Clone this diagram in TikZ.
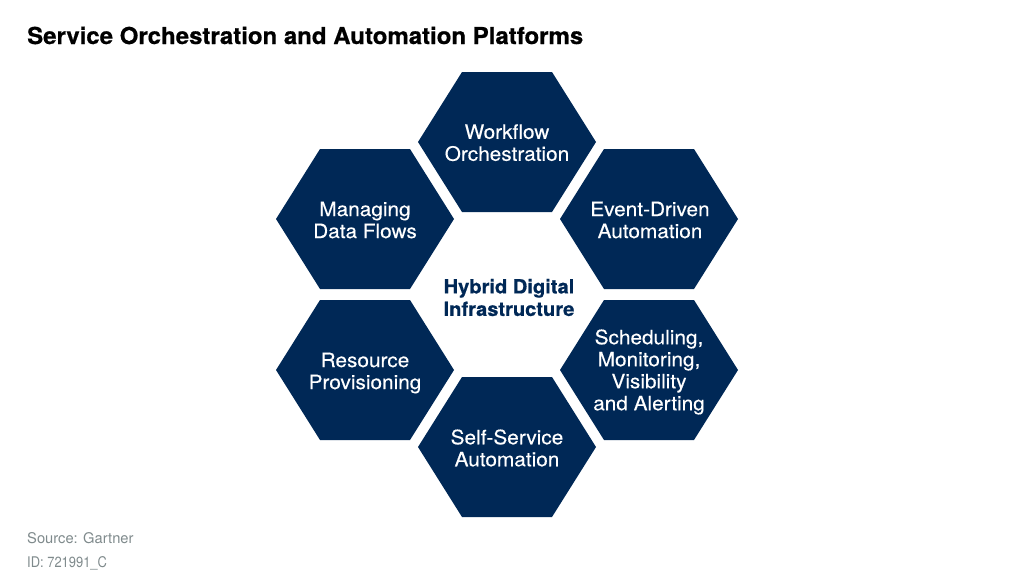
\documentclass[tikz,border=0pt]{standalone}
\usepackage{fontspec}
\setmainfont{TeX Gyre Heros}[FakeStretch=1.05]
\newfontfamily\hexfont{TeX Gyre Heros}[FakeStretch=1.05, FakeBold=0.25]
\newfontfamily\titlefont{TeX Gyre Heros Bold}[FakeStretch=1.03, FakeBold=0.6]
\newfontfamily\footfont{TeX Gyre Heros}
\newfontfamily\idfont{TeX Gyre Heros}[FakeStretch=0.88]
\definecolor{navy}{HTML}{002856}
\definecolor{footgray}{HTML}{7F8A8C}
\tikzset{
  hexfill/.style={fill=navy},
  hexlabel/.style={text=white, align=center, inner sep=0pt, font=\fontsize{19.8}{22}\hexfont\selectfont},
  centerlabel/.style={text=navy, align=center, inner sep=0pt, font=\fontsize{19.5}{22.5}\titlefont\selectfont},
  titlelabel/.style={anchor=base west, inner sep=0pt, font=\fontsize{23.3}{26}\titlefont\selectfont},
  footlabel/.style={anchor=base west, inner sep=0pt, text=footgray, font=\fontsize{14.7}{16}\footfont\selectfont}
}
\begin{document}
\begin{tikzpicture}[x=1pt, y=-1pt]
\useasboundingbox (0,0) rectangle (1024,581);
\foreach \name/\x/\y/\dx/\dy/\txt in {
  workflow/507/142/0/0.7/{Workflow\\Orchestration},
  event/649/219/1/1/{Event-Driven\\Automation},
  scheduling/649/370/0/2/{Scheduling,\\Monitoring,\\Visibility\\and Alerting},
  selfservice/507/447/0/1/{Self-Service\\Automation},
  resource/365/370/0/3/{Resource\\Provisioning},
  managing/365/219/0/1/{Managing\\Data Flows}}
{
  \fill[hexfill] (\x-89,\y) -- (\x-45,\y-70) -- (\x+45,\y-70) -- (\x+89,\y) -- (\x+45,\y+70) -- (\x-45,\y+70) -- cycle;
  \node[hexlabel] (\name) at (\x+\dx,\y+\dy) {\txt};
}
\node[centerlabel] (hybrid) at (509,297.5) {Hybrid Digital\\Infrastructure};
\node[titlelabel] (title) at (27,44) {Service Orchestration and Automation Platforms};
\node[footlabel] (source) at (27,543) {Source: Gartner};
\node[footlabel, font=\fontsize{14.7}{16}\idfont\selectfont] (docid) at (27,567) {ID: 721991\_C};
\end{tikzpicture}
\end{document}
